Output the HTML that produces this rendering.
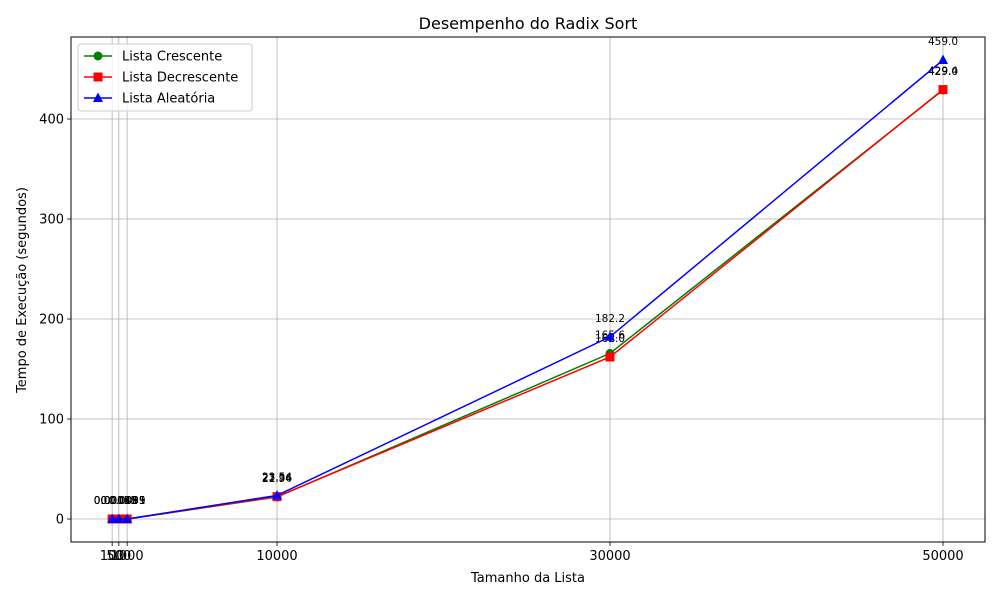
<!DOCTYPE html>
<html><head><meta charset="utf-8"><style>
body{margin:0;background:#fff;font-family:"Liberation Sans","DejaVu Sans",sans-serif}
</style></head><body>
<svg id="chart" width="1000" height="600" xmlns="http://www.w3.org/2000/svg" font-family="DejaVu Sans, Liberation Sans, sans-serif"></svg>
<script>
const sizes=[100,500,1000,10000,30000,50000];
const crescente=[0.0012,0.0045,0.0089,21.94,165.6,429.0];
const decrescente=[0.0013,0.0048,0.0091,22.36,162.0,429.4];
const aleatoria=[0.0015,0.0053,0.0095,23.54,182.2,459.0];
const xTicks=[100,500,1000,10000,30000,50000];
const yTicks=[0,100,200,300,400];
const L=71,R=985,T=37,B=542;
const X=v=>110.5+v*0.01665;
const Y=v=>519-v*1.0;
const svg=document.getElementById('chart');
const NS='http://www.w3.org/2000/svg';
function mk(tag,a,parent){const e=document.createElementNS(NS,tag);for(const k in a)e.setAttribute(k,a[k]);(parent||svg).appendChild(e);return e;}
// grid
xTicks.forEach(t=>{const g=mk('line',{x1:X(t),x2:X(t),y1:T,y2:B,stroke:'#b0b0b0','stroke-width':0.8});


mk('line',{x1:X(t),x2:X(t),y1:B,y2:B+4,stroke:'#000','stroke-width':0.8});
const tx=mk('text',{x:X(t),y:B+18,'text-anchor':'middle','font-size':13});tx.textContent=t;

});
yTicks.forEach(t=>{const g=mk('line',{x1:L,x2:R,y1:Y(t),y2:Y(t),stroke:'#b0b0b0','stroke-width':0.8});


mk('line',{x1:L-4,x2:L,y1:Y(t),y2:Y(t),stroke:'#000','stroke-width':0.8});
const tx=mk('text',{x:L-7,y:Y(t)+4.5,'text-anchor':'end','font-size':13});tx.textContent=t;

});
const fr=mk('rect',{x:L,y:T,width:R-L,height:B-T,fill:'none',stroke:'#000','stroke-width':1});


function marker(kind,x,y,c,parent){
 if(kind==='o')return mk('circle',{cx:x,cy:y,r:4.5,fill:c},parent);
 if(kind==='s')return mk('rect',{x:x-4.5,y:y-4.5,width:9,height:9,fill:c},parent);
 return mk('polygon',{points:`${x},${y-5.5} ${x+5},${y+4} ${x-5},${y+4}`,fill:c},parent);}
const series=[['lista-crescente',crescente,'green','o','Lista Crescente'],['lista-decrescente',decrescente,'red','s','Lista Decrescente'],['lista-aleatoria',aleatoria,'blue','^','Lista Aleatória']];
series.forEach(([nm,vals,c,m])=>{
 const g=mk('g',{});
 
 
 const l=mk('polyline',{points:vals.map((v,i)=>X(sizes[i])+','+Y(v)).join(' '),fill:'none',stroke:c,'stroke-width':1.5},g);
 
 
 vals.forEach((v,i)=>{const p=marker(m,X(sizes[i]),Y(v),c,g);
  
  
  const t=mk('text',{x:X(sizes[i]),y:Y(v)-15,'text-anchor':'middle','font-size':10.5},g);
  t.textContent=v<1?String(v):v.toFixed(v<100&&sizes[i]===10000?2:1);
  
  });
});
const ti=mk('text',{x:528,y:29,'text-anchor':'middle','font-size':16});ti.textContent='Desempenho do Radix Sort';


const xl=mk('text',{x:528,y:582,'text-anchor':'middle','font-size':13});xl.textContent='Tamanho da Lista';


const yl=mk('text',{x:26,y:290,'text-anchor':'middle','font-size':13,transform:'rotate(-90 26 290)'});yl.textContent='Tempo de Execução (segundos)';


const lg=mk('g',{});


mk('rect',{x:78,y:44,width:174,height:67,rx:3,fill:'#fff','fill-opacity':0.8,stroke:'#ccc'},lg);
series.forEach(([nm,vals,c,m,label],i)=>{const y=56+i*21;
 const e=mk('g',{},lg);
 
 
 mk('line',{x1:84,x2:112,y1:y,y2:y,stroke:c,'stroke-width':1.5},e);marker(m,98,y,c,e);
 const t=mk('text',{x:122,y:y+4.5,'font-size':13},e);t.textContent=label;});
</script>
</body></html>
